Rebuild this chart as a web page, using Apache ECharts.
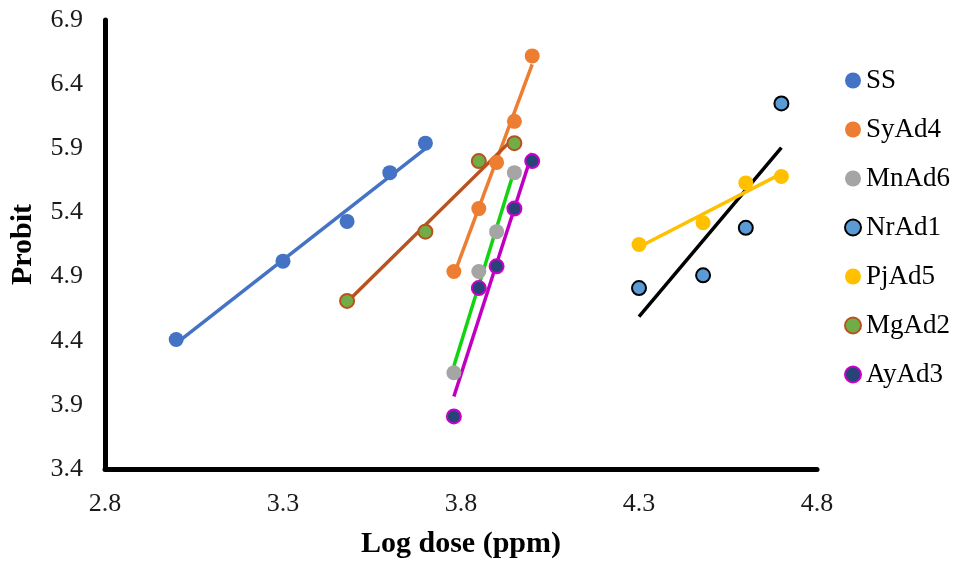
<!DOCTYPE html>
<html>
<head>
<meta charset="utf-8">
<script src="https://cdn.jsdelivr.net/npm/echarts@6/dist/echarts.min.js"></script>
<style>
  html, body { margin: 0; padding: 0; background: #fff; }
  #chart { width: 957px; height: 564px; }
</style>
</head>
<body>
<div id="chart"></div>
<script>
// Log dose (ppm) against probit for each treatment
const ssDose     = [3.0, 3.3, 3.48, 3.6, 3.7];
const ssProbit   = [4.41, 5.02, 5.33, 5.71, 5.94];

const syDose     = [3.78, 3.85, 3.9, 3.95, 4.0];
const syProbit   = [4.94, 5.43, 5.79, 6.11, 6.62];

const mnDose     = [3.78, 3.85, 3.9, 3.95];
const mnProbit   = [4.15, 4.94, 5.25, 5.71];

const nrDose     = [4.3, 4.48, 4.6, 4.7];
const nrProbit   = [4.81, 4.91, 5.28, 6.25];

const pjDose     = [4.3, 4.48, 4.6, 4.7];
const pjProbit   = [5.15, 5.32, 5.63, 5.68];

const mgDose     = [3.48, 3.7, 3.85, 3.95];
const mgProbit   = [4.71, 5.25, 5.8, 5.94];

const ayDose     = [3.78, 3.85, 3.9, 3.95, 4.0];
const ayProbit   = [3.81, 4.81, 4.98, 5.43, 5.8];

const xTicks = [2.8, 3.3, 3.8, 4.3, 4.8];
const yTicks = [3.4, 3.9, 4.4, 4.9, 5.4, 5.9, 6.4, 6.9];

const FONT = '"Liberation Serif", "Times New Roman", serif';

// least-squares line across the dose range of one treatment
function fit(xs, ys) {
  const n = xs.length;
  const mx = xs.reduce((a, b) => a + b, 0) / n;
  const my = ys.reduce((a, b) => a + b, 0) / n;
  let sxy = 0, sxx = 0;
  for (let i = 0; i < n; i++) {
    sxy += (xs[i] - mx) * (ys[i] - my);
    sxx += (xs[i] - mx) * (xs[i] - mx);
  }
  const b = sxy / sxx, a = my - b * mx;
  const x0 = Math.min(...xs), x1 = Math.max(...xs);
  return [[x0, a + b * x0], [x1, a + b * x1]];
}

const groups = [
  { name: 'SS',    x: ssDose, y: ssProbit, fill: '#4472C4', edge: '#4472C4', line: '#4472C4' },
  { name: 'SyAd4', x: syDose, y: syProbit, fill: '#ED7D31', edge: '#ED7D31', line: '#ED7D31' },
  { name: 'MnAd6', x: mnDose, y: mnProbit, fill: '#A5A5A5', edge: '#A5A5A5', line: '#11D411' },
  { name: 'NrAd1', x: nrDose, y: nrProbit, fill: '#5B9BD5', edge: '#000000', line: '#000000' },
  { name: 'PjAd5', x: pjDose, y: pjProbit, fill: '#FFC000', edge: '#FFC000', line: '#FFC000' },
  { name: 'MgAd2', x: mgDose, y: mgProbit, fill: '#70AD47', edge: '#B8521F', line: '#B8521F' },
  { name: 'AyAd3', x: ayDose, y: ayProbit, fill: '#264478', edge: '#CC00CC', line: '#C000C0' }
];

const series = [];
groups.forEach(g => {
  series.push({
    name: g.name + ' trend',
    type: 'line',
    data: fit(g.x, g.y),
    symbol: 'none',
    silent: true,
    z: 2,
    lineStyle: { color: g.line, width: 3.5 }
  });
});
groups.forEach(g => {
  series.push({
    name: g.name,
    type: 'scatter',
    data: g.x.map((v, i) => [v, g.y[i]]),
    symbol: 'circle',
    symbolSize: g.edge === g.fill ? 15 : 14,
    z: 3,
    itemStyle: {
      color: g.fill,
      borderColor: g.edge,
      borderWidth: g.edge === g.fill ? 0 : 2,
      opacity: 1
    }
  });
});

const chart = echarts.init(document.getElementById('chart'), null, { renderer: 'canvas' });
chart.setOption({
  animation: false,
  backgroundColor: '#ffffff',
  grid: { left: 104, right: 140, top: 20, bottom: 94, containLabel: false },
  legend: {
    data: groups.map(g => g.name),
    orient: 'vertical',
    left: 839,
    top: 62,
    itemWidth: 16,
    itemHeight: 16,
    itemGap: 22,
    icon: 'circle',
    textStyle: { fontFamily: FONT, fontSize: 27, color: '#000' }
  },
  xAxis: {
    type: 'value',
    min: xTicks[0],
    max: xTicks[xTicks.length - 1],
    interval: 0.5,
    name: 'Log dose (ppm)',
    nameLocation: 'middle',
    nameGap: 60,
    nameTextStyle: { fontFamily: FONT, fontSize: 30, fontWeight: 'bold', color: '#000' },
    axisLine: { show: true, onZero: false, lineStyle: { color: '#000', width: 5 } },
    axisTick: { show: false },
    splitLine: { show: false },
    axisLabel: {
      margin: 22,
      fontFamily: FONT, fontSize: 26, color: '#1a1a1a',
      formatter: v => v.toFixed(1)
    }
  },
  yAxis: {
    type: 'value',
    min: yTicks[0],
    max: yTicks[yTicks.length - 1],
    interval: 0.5,
    name: 'Probit',
    nameLocation: 'middle',
    nameRotate: 90,
    nameGap: 67,
    nameTextStyle: { fontFamily: FONT, fontSize: 30, fontWeight: 'bold', color: '#000' },
    axisLine: { show: true, onZero: false, lineStyle: { color: '#000', width: 5 } },
    axisTick: { show: false },
    splitLine: { show: false },
    axisLabel: {
      margin: 22,
      fontFamily: FONT, fontSize: 26, color: '#1a1a1a',
      formatter: v => v.toFixed(1)
    }
  },
  series: series
});
</script>
</body>
</html>
